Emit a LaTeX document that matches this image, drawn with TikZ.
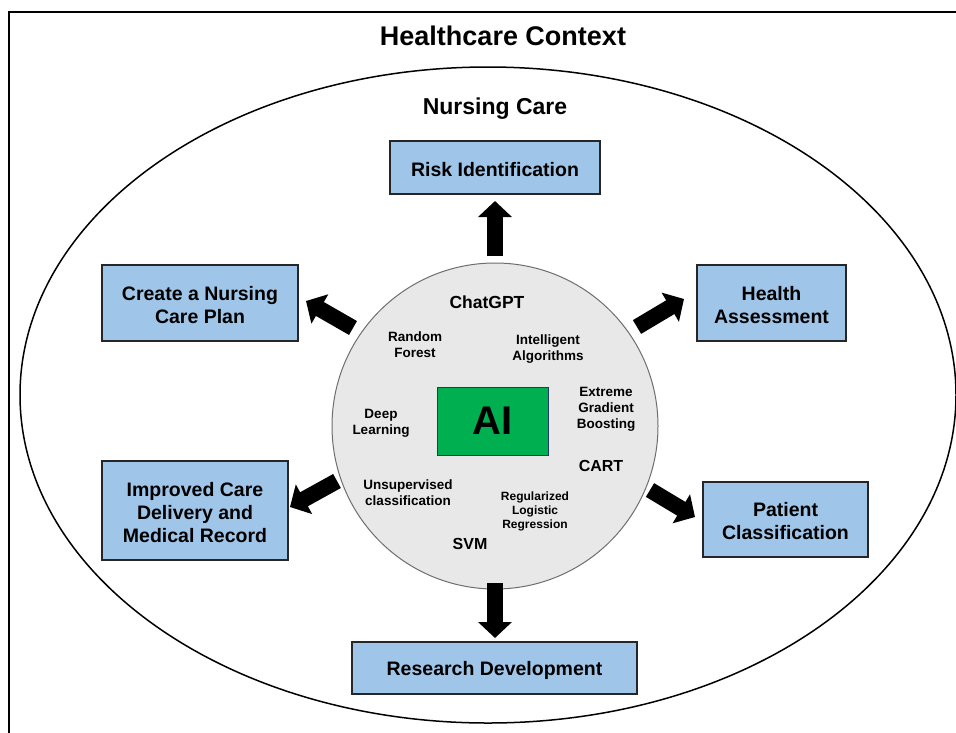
\documentclass[tikz,border=0pt]{standalone}
\usepackage{fontspec}
\setmainfont{Liberation Sans}
\usetikzlibrary{arrows.meta}
\definecolor{boxblue}{HTML}{9FC5E8}
\definecolor{aigreen}{HTML}{00B050}
\definecolor{aiborder}{HTML}{1F3864}
\definecolor{circgray}{HTML}{E8E8E8}
\definecolor{circline}{HTML}{6E6E6E}
\tikzset{
  outcome/.style={draw=black!85, line width=1.2pt, fill=boxblue, align=center, inner sep=0pt,
    font=\fontsize{19.5}{23}\selectfont\bfseries},
  outtext/.style={align=center, inner sep=0pt, font=\fontsize{19.5}{23}\selectfont\bfseries, yshift=-2pt},
  tech/.style={align=center, inner sep=0pt, font=\fontsize{13.5}{16}\selectfont\bfseries},
  techbig/.style={align=center, inner sep=0pt, font=\fontsize{16}{18}\selectfont\bfseries},
  techsmall/.style={align=center, inner sep=0pt, font=\fontsize{12}{14}\selectfont\bfseries},
  blockarrow/.style={line width=16pt, -{Triangle[length=16pt,width=33pt]}, line cap=butt}
}
\begin{document}
\begin{tikzpicture}[x=1pt,y=-1pt]
\useasboundingbox (0,0) rectangle (956,732);
\clip (0,0) rectangle (956,732);
% outer frame
\draw[line width=1.5pt] (9,12) rectangle (990,770);
\node[font=\fontsize{27}{30}\selectfont\bfseries] (ctx) at (503,36) {Healthcare Context};
% ellipse
\draw[line width=1.5pt] (488,395) ellipse [x radius=468pt, y radius=328pt];
\node[font=\fontsize{23}{26}\selectfont\bfseries] (nurs) at (495,109) {Nursing Care};
% central circle
\node[circle, draw=circline, line width=1pt, fill=circgray, minimum size=326pt, inner sep=0pt] (core) at (495,426) {};
\node[draw=aiborder, line width=1pt, fill=aigreen, minimum width=111pt, minimum height=68pt, inner sep=0pt,
  font=\fontsize{40}{40}\selectfont\bfseries] (ai) at (492.5,421) {AI};
% technique labels
\node[techbig, font=\fontsize{17.5}{20}\selectfont\bfseries] (chat) at (487,302) {ChatGPT};
\node[tech] (rf) at (415,344.5) {Random\\Forest};
\node[tech] (ia) at (548,349) {Intelligent\\Algorithms};
\node[tech] (xgb) at (606,409) {Extreme\\Gradient\\Boosting};
\node[tech] (dl) at (381,423.5) {Deep\\Learning};
\node[techbig] (cart) at (601,466) {CART};
\node[tech] (uc) at (408,493) {Unsupervised\\classification};
\node[techsmall] (rlr) at (535,511) {Regularized\\Logistic\\Regression};
\node[techbig] (svm) at (470,544) {SVM};
% outcome boxes
\node[outcome, minimum width=210pt, minimum height=53pt] (risk) at (495,167.5) {};
\node[outtext] (riskt) at (risk) {Risk Identification};
\node[outcome, minimum width=196pt, minimum height=76pt] (plan) at (200,303) {};
\node[outtext] (plant) at (plan) {Create a Nursing\\Care Plan};
\node[outcome, minimum width=149pt, minimum height=76pt] (health) at (771.5,303) {};
\node[outtext] (healtht) at (health) {Health\\Assessment};
\node[outcome, minimum width=186pt, minimum height=99pt] (impr) at (195,510.5) {};
\node[outtext] (imprt) at (impr) {Improved Care\\Delivery and\\Medical Record};
\node[outcome, minimum width=165pt, minimum height=75pt] (pat) at (785.5,519.5) {};
\node[outtext] (patt) at (pat) {Patient\\Classification};
\node[outcome, minimum width=285pt, minimum height=52pt] (res) at (494.5,668) {};
\node[outtext] (rest) at (res) {Research Development};
% arrow end points
\coordinate (tU) at (495,256);   \coordinate (hU) at (495,201);
\coordinate (tUL) at (353,328);  \coordinate (hUL) at (306,301);
\coordinate (tUR) at (637,327);  \coordinate (hUR) at (684,299);
\coordinate (tLL) at (337,481);  \coordinate (hLL) at (290,507);
\coordinate (tLR) at (650,490);  \coordinate (hLR) at (695,517);
\coordinate (tD) at (495,583);   \coordinate (hD) at (495,638);
\draw[blockarrow] (tU) -- (hU);
\draw[blockarrow] (tUL) -- (hUL);
\draw[blockarrow] (tUR) -- (hUR);
\draw[blockarrow] (tLL) -- (hLL);
\draw[blockarrow] (tLR) -- (hLR);
\draw[blockarrow] (tD) -- (hD);
\end{tikzpicture}
\end{document}
